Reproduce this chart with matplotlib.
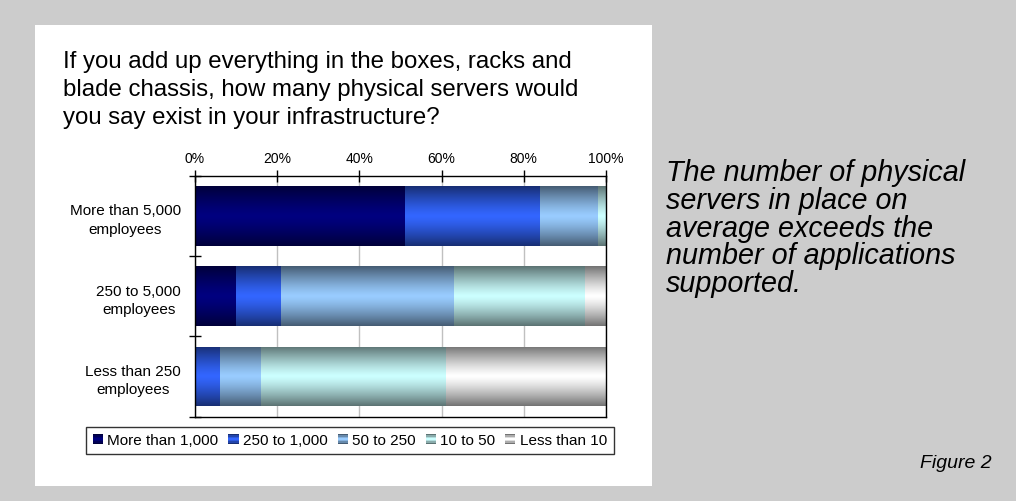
import numpy as np
import matplotlib
matplotlib.use("Agg")
import matplotlib.pyplot as plt
from matplotlib.patches import Rectangle, Patch
from matplotlib.legend_handler import HandlerBase

plt.rcParams['font.family'] = ['Liberation Sans', 'DejaVu Sans']

# Company size groups (top to bottom) and server-count bands
categories = ["More than 5,000\nemployees", "250 to 5,000\nemployees", "Less than 250\nemployees"]
series_names = ["More than 1,000", "250 to 1,000", "50 to 250", "10 to 50", "Less than 10"]
more_than_1000 = [51, 10, 0]
from_250_to_1000 = [33, 11, 6]
from_50_to_250 = [14, 42, 10]
from_10_to_50 = [2, 32, 45]
less_than_10 = [0, 5, 39]
series_values = [more_than_1000, from_250_to_1000, from_50_to_250, from_10_to_50, less_than_10]
series_colors = ["#000080", "#3366FF", "#99CCFF", "#CCFFFF", "#FFFFFF"]

x_ticks = [0, 20, 40, 60, 80, 100]
x_tick_labels = [f"{v}%" for v in x_ticks]

title_lines = ["If you add up everything in the boxes, racks and",
               "blade chassis, how many physical servers would",
               "you say exist in your infrastructure?"]
note_lines = ["The number of physical", "servers in place on", "average exceeds the",
              "number of applications", "supported."]

W, H = 1016, 502
fig = plt.figure(figsize=(W / 100, H / 100), dpi=100)
fig.patch.set_facecolor("#cccccc")

# white chart panel
fig.patches.append(Rectangle((35 / W, 1 - 487 / H), (652 - 35) / W, (487 - 26) / H,
                             transform=fig.transFigure, facecolor="white",
                             edgecolor="none", zorder=-10))

ax = fig.add_axes([195 / W, 1 - 417.5 / H, (606 - 195) / W, (417.5 - 176.7) / H])
ax.set_zorder(1)
ax.set_facecolor("white")

y_pos = np.arange(len(categories))
bar_h = 0.74


def shaded(col, rows):
    """Colour ramp: darker at the top and bottom edges, full colour in the middle."""
    rgb = np.array(matplotlib.colors.to_rgb(col))
    t = np.linspace(-1, 1, rows)
    f = 1 - 0.55 * np.abs(t) ** 1.3
    return f[:, None, None] * rgb[None, None, :]


left = np.zeros(len(categories))
for vals, col in zip(series_values, series_colors):
    vals = np.array(vals, dtype=float)
    bars = ax.barh(y_pos, vals, left=left, height=bar_h, color=col,
                   edgecolor="none", zorder=2)
    grad = shaded(col, 128)
    for b in bars:
        if b.get_width() <= 0:
            continue
        x0, y0 = b.get_x(), b.get_y()
        im = ax.imshow(grad, extent=(x0, x0 + b.get_width(), y0, y0 + b.get_height()),
                       aspect="auto", interpolation="bilinear", zorder=3)
        im.set_clip_path(b)
    left += vals

ax.set_xlim(0, 100)
ax.set_ylim(len(categories) - 0.5, -0.5)

ax.xaxis.tick_top()
ax.set_xticks(x_ticks)
ax.set_xticklabels(x_tick_labels, fontsize=10)
ax.tick_params(axis="x", direction="inout", length=8, width=1, pad=4, color="black")
ax.xaxis.grid(True, color="#c0c0c0", linewidth=1)
ax.set_axisbelow(True)

ax.set_yticks(np.arange(len(categories) + 1) - 0.5)
ax.set_yticklabels([])
ax.tick_params(axis="y", which="major", direction="inout", length=8, width=1)
ax.set_yticks(y_pos, minor=True)
ax.set_yticklabels(categories, minor=True, fontsize=11, linespacing=1.4)
ax.tick_params(axis="y", which="minor", length=0, pad=10)
for lab in ax.get_yticklabels(minor=True):
    lab.set_multialignment("center")

for sp in ax.spines.values():
    sp.set_color("black")
    sp.set_linewidth(1)
    sp.set_zorder(4)


class ShadedSquare(HandlerBase):
    """Legend key drawn as a small square with the same edge-to-centre shading."""

    def create_artists(self, legend, orig_handle, xdescent, ydescent, width, height,
                       fontsize, trans):
        col = orig_handle.get_facecolor()
        rows = 7
        grad = shaded(col, rows)[:, 0, :]
        arts = []
        side = height
        x0 = -xdescent + (width - side) / 2
        y0 = -ydescent
        for i in range(rows):
            r = Rectangle((x0, y0 + side * i / rows), side, side / rows + 0.05,
                          facecolor=grad[i], edgecolor="none", transform=trans)
            arts.append(r)
        return arts


# legend below the plot
handles = [Patch(facecolor=c, edgecolor="none") for c in series_colors]
leg = fig.legend(handles, series_names, loc="center", ncol=5,
                 bbox_to_anchor=(350 / W, 1 - 441.5 / H), fontsize=11,
                 frameon=True, fancybox=False, handlelength=0.65, handleheight=0.65,
                 handletextpad=0.3, columnspacing=0.65, borderpad=0.45,
                 handler_map={Patch: ShadedSquare()})
leg.get_frame().set_edgecolor("black")
leg.get_frame().set_linewidth(1)

for i, line in enumerate(title_lines):
    fig.text(63 / W, 1 - (68 + 28 * i) / H, line, fontsize=17.3, va="baseline",
             ha="left", color="black")

for i, line in enumerate(note_lines):
    fig.text(666 / W, 1 - (181 + 27.8 * i) / H, line, fontsize=20.7, style="italic",
             va="baseline", ha="left", color="black")

fig.text(992 / W, 1 - 468 / H, "Figure 2", fontsize=14, style="italic",
         va="baseline", ha="right", color="black")

fig.savefig("out.png", dpi=100, facecolor=fig.get_facecolor())
